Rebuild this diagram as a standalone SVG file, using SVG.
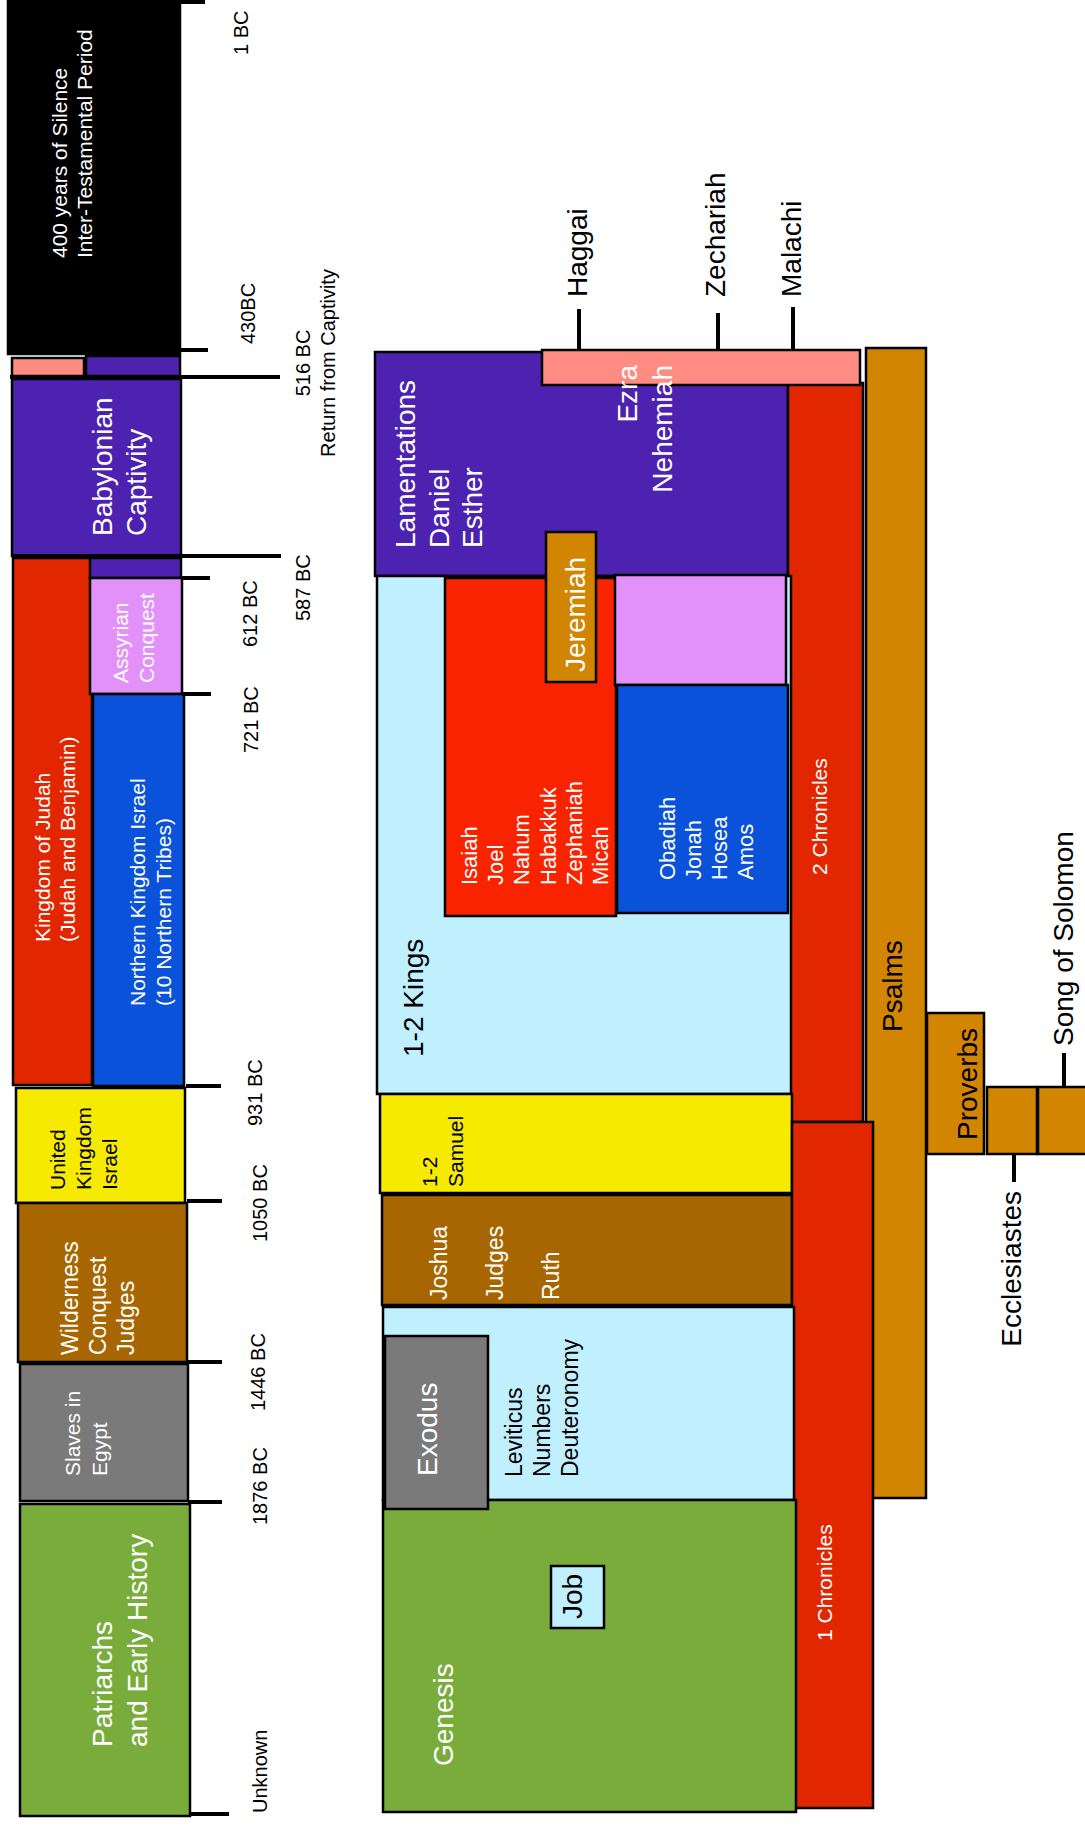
<svg xmlns="http://www.w3.org/2000/svg" width="1085" height="1827" viewBox="0 0 1085 1827">
<style>
rect{stroke:#000;stroke-width:2.5}
.k{fill:#000}.pu{fill:#4E22B1}.sa{fill:#FF8C82}.rd{fill:#E12600}.br{fill:#F92300}.vi{fill:#E291F9}.bl{fill:#0B52DA}.ye{fill:#F5EA00}.bn{fill:#A86600}.gr{fill:#7A7A7A}.gn{fill:#7AAC3C}.lc{fill:#C0F0FE}.or{fill:#D28500}
text{font-family:"Liberation Sans",Arial,sans-serif}
.w{fill:#fff}.b{fill:#000}
.f20{font-size:20px}.f21{font-size:21px}.f22{font-size:22px}.f23{font-size:23px}.f28{font-size:28px}
.tk{stroke:#000;stroke-width:4;fill:none}
</style>

<!-- LEFT TIMELINE -->
<g id="silence"><rect class="k" x="8" y="1" width="172" height="353"/>
<text class="w f21" transform="translate(67,258) rotate(-90)"><tspan x="0" y="0">400 years of Silence</tspan><tspan x="0" dy="25">Inter-Testamental Period</tspan></text></g>
<g id="return-small"><rect class="sa" x="12" y="358" width="72" height="18"/><rect class="pu" x="86" y="356" width="94" height="20"/></g>
<g id="babylonian"><rect class="pu" x="12" y="379" width="169" height="177"/>
<text class="w f28" transform="translate(112,536) rotate(-90)"><tspan x="0" y="0">Babylonian</tspan><tspan x="0" dy="34">Captivity</tspan></text></g>
<g id="judah"><rect class="rd" x="13" y="558" width="79" height="527"/>
<text class="w f21" transform="translate(50,942) rotate(-90)"><tspan x="0" y="0">Kingdom of Judah</tspan><tspan x="0" dy="25">(Judah and Benjamin)</tspan></text></g>
<g id="purple-small2"><rect class="pu" x="90" y="558" width="91" height="20"/></g>
<g id="assyrian"><rect class="vi" x="90" y="578" width="92" height="116"/>
<text class="w f21" transform="translate(128,683) rotate(-90)"><tspan x="0" y="0">Assyrian</tspan><tspan x="0" dy="26">Conquest</tspan></text></g>
<g id="northern"><rect class="bl" x="93" y="694" width="91" height="392"/>
<text class="w f21" transform="translate(145,1006) rotate(-90)"><tspan x="0" y="0">Northern Kingdom Israel</tspan><tspan x="0" dy="26">(10 Northern Tribes)</tspan></text></g>
<g id="united"><rect class="ye" x="16" y="1088" width="169" height="115"/>
<text class="b f21" transform="translate(65,1190) rotate(-90)"><tspan x="0" y="0">United</tspan><tspan x="0" dy="26">Kingdom</tspan><tspan x="0" dy="26">Israel</tspan></text></g>
<g id="wilderness"><rect class="bn" x="18" y="1203" width="169" height="159"/>
<text class="w f23" transform="translate(78,1355) rotate(-90)"><tspan x="0" y="0">Wilderness</tspan><tspan x="0" dy="28">Conquest</tspan><tspan x="0" dy="28">Judges</tspan></text></g>
<g id="slaves"><rect class="gr" x="20" y="1364" width="168" height="137"/>
<text class="w f21" transform="translate(80,1476) rotate(-90)"><tspan x="0" y="0">Slaves in</tspan><tspan x="0" dy="27">Egypt</tspan></text></g>
<g id="patriarchs"><rect class="gn" x="20" y="1504" width="170" height="312"/>
<text class="w f28" transform="translate(112,1747) rotate(-90)"><tspan x="0" y="0">Patriarchs</tspan><tspan x="0" dy="35">and Early History</tspan></text></g>

<g id="dates">
<text class="b f20" transform="translate(248,55) rotate(-90)">1 BC</text>
<text class="b f20" transform="translate(255,344) rotate(-90)">430BC</text>
<text class="b f20" text-anchor="middle" transform="translate(310,363) rotate(-90)"><tspan x="0" y="0">516 BC</tspan><tspan x="0" dy="25">Return from Captivity</tspan></text>
<text class="b f20" transform="translate(310,621) rotate(-90)">587 BC</text>
<text class="b f20" transform="translate(257,647) rotate(-90)">612 BC</text>
<text class="b f20" transform="translate(258,753) rotate(-90)">721 BC</text>
<text class="b f20" transform="translate(262,1126) rotate(-90)">931 BC</text>
<text class="b f20" transform="translate(267,1242) rotate(-90)">1050 BC</text>
<text class="b f20" transform="translate(265,1411) rotate(-90)">1446 BC</text>
<text class="b f20" transform="translate(267,1525) rotate(-90)">1876 BC</text>
<text class="b f20" transform="translate(267,1813) rotate(-90)">Unknown</text>
</g>

<!-- RIGHT CHART -->
<g id="psalms"><rect class="or" x="866" y="348" width="60" height="1150"/>
<text class="b f28" transform="translate(902,1032) rotate(-90)">Psalms</text></g>
<g id="exile-books"><rect class="pu" x="375" y="352" width="413" height="224"/>
<text class="w f28" transform="translate(415,548) rotate(-90)"><tspan x="0" y="0">Lamentations</tspan><tspan x="0" dy="33.5">Daniel</tspan><tspan x="0" dy="33.5">Esther</tspan></text></g>
<g id="chronicles2"><rect class="rd" x="788" y="383" width="75" height="739"/>
<text class="w f21" transform="translate(827,875) rotate(-90)">2 Chronicles</text></g>
<g id="ezra-nehemiah"><rect class="sa" x="542" y="350" width="318" height="35"/>
<text class="w f28" text-anchor="end" transform="translate(637,365) rotate(-90)"><tspan x="0" y="0">Ezra</tspan><tspan x="0" dy="35">Nehemiah</tspan></text></g>
<g id="kings"><rect class="lc" x="377" y="576" width="414" height="518"/>
<text class="b f28" transform="translate(423,1057) rotate(-90)">1-2 Kings</text></g>
<g id="southern-prophets"><rect class="br" x="445" y="578" width="171" height="338"/>
<text class="w f22" transform="translate(477,885) rotate(-90)"><tspan x="0" y="0">Isaiah</tspan><tspan x="0" dy="26.2">Joel</tspan><tspan x="0" dy="26.2">Nahum</tspan><tspan x="0" dy="26.2">Habakkuk</tspan><tspan x="0" dy="26.2">Zephaniah</tspan><tspan x="0" dy="26.2">Micah</tspan></text></g>
<g id="assyrian-right"><rect class="vi" x="615" y="575" width="171" height="110"/></g>
<g id="northern-prophets"><rect class="bl" x="617" y="685" width="171" height="228"/>
<text class="w f22" transform="translate(675,880) rotate(-90)"><tspan x="0" y="0">Obadiah</tspan><tspan x="0" dy="26">Jonah</tspan><tspan x="0" dy="26">Hosea</tspan><tspan x="0" dy="26">Amos</tspan></text></g>
<g id="jeremiah"><rect class="or" x="546" y="532" width="50" height="150"/>
<text class="w f28" transform="translate(585,672) rotate(-90)">Jeremiah</text></g>
<g id="samuel"><rect class="ye" x="380" y="1094" width="412" height="99"/>
<text class="b f21" transform="translate(437,1187) rotate(-90)"><tspan x="0" y="0">1-2</tspan><tspan x="0" dy="26">Samuel</tspan></text></g>
<g id="joshua"><rect class="bn" x="382" y="1195" width="410" height="110"/>
<text class="w f23" transform="translate(447,1300) rotate(-90)"><tspan x="0" y="0">Joshua</tspan><tspan x="0" dy="56">Judges</tspan><tspan x="0" dy="56">Ruth</tspan></text></g>
<g id="chronicles1"><rect class="rd" x="792" y="1122" width="81" height="686"/>
<text class="w f21" transform="translate(832,1641) rotate(-90)">1 Chronicles</text></g>
<g id="law"><rect class="lc" x="383" y="1307" width="411" height="193"/>
<text class="b f23" transform="translate(522,1477) rotate(-90)"><tspan x="0" y="0">Leviticus</tspan><tspan x="0" dy="28">Numbers</tspan><tspan x="0" dy="28">Deuteronomy</tspan></text></g>
<g id="genesis"><rect class="gn" x="383" y="1500" width="413" height="312"/>
<text class="w f28" transform="translate(453,1766) rotate(-90)">Genesis</text></g>
<g id="exodus"><rect class="gr" x="385" y="1336" width="103" height="173"/>
<text class="w f28" transform="translate(437,1476) rotate(-90)">Exodus</text></g>
<g id="job"><rect class="lc" x="551" y="1566" width="53" height="62"/>
<text class="b f28" transform="translate(582,1619) rotate(-90)">Job</text></g>
<g id="proverbs"><rect class="or" x="927" y="1013" width="57" height="141"/>
<text class="b f28" transform="translate(977,1140) rotate(-90)">Proverbs</text></g>
<g id="ecclesiastes"><rect class="or" x="987" y="1087" width="50" height="67"/>
<text class="b f28" text-anchor="end" transform="translate(1021,1191) rotate(-90)">Ecclesiastes</text></g>
<g id="song"><rect class="or" x="1038" y="1087" width="52" height="67"/>
<text class="b f28" transform="translate(1073,1046) rotate(-90)">Song of Solomon</text></g>
<g id="haggai"><text class="b f28" transform="translate(587,297) rotate(-90)">Haggai</text></g>
<g id="zechariah"><text class="b f28" transform="translate(725,297) rotate(-90)">Zechariah</text></g>
<g id="malachi"><text class="b f28" transform="translate(801,297) rotate(-90)">Malachi</text></g>

<g id="connectors" class="tk">
<line x1="180" y1="2" x2="205" y2="2"/>
<line x1="180" y1="350" x2="208" y2="350"/>
<line x1="10" y1="377" x2="280" y2="377"/>
<line x1="12" y1="556" x2="281" y2="556"/>
<line x1="181" y1="578" x2="210" y2="578"/>
<line x1="182" y1="694" x2="211" y2="694"/>
<line x1="186" y1="1086" x2="221" y2="1086"/>
<line x1="187" y1="1201" x2="222" y2="1201"/>
<line x1="187" y1="1362" x2="222" y2="1362"/>
<line x1="188" y1="1502" x2="222" y2="1502"/>
<line x1="190" y1="1814" x2="229" y2="1814"/>
<line x1="579" y1="309" x2="579" y2="350"/>
<line x1="718" y1="313" x2="718" y2="350"/>
<line x1="793" y1="307" x2="793" y2="350"/>
<line x1="1014" y1="1154" x2="1014" y2="1182"/>
<line x1="1064" y1="1053" x2="1064" y2="1087"/>
</g>
</svg>
